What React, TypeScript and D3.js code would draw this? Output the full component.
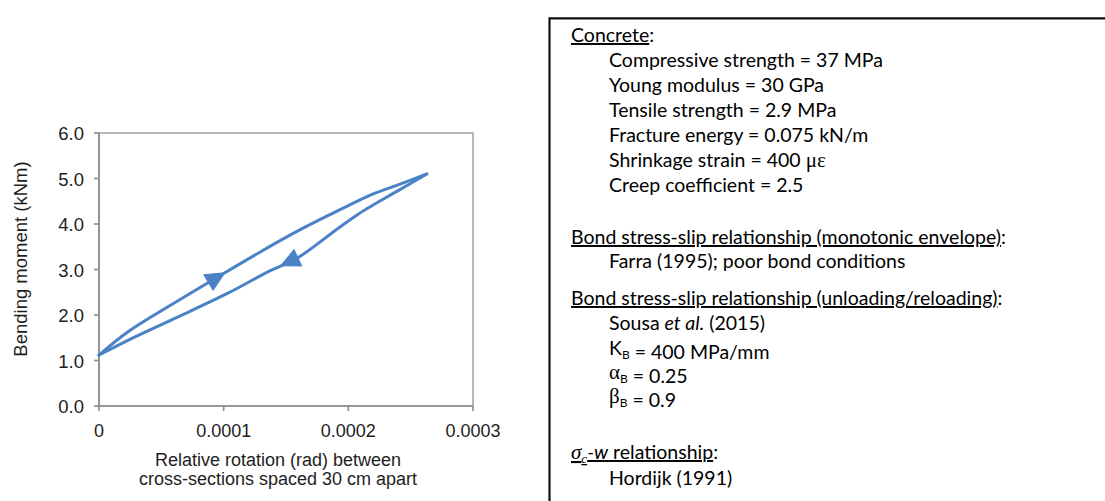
import React from "react";
import * as d3 from "d3";

// Moment–rotation loop: loading branch (upper) and unloading branch (lower)
const loadRotation = [0, 0.0000233, 0.0000553, 0.0000955, 0.000129, 0.000161, 0.000193, 0.00022, 0.000241, 0.000263];
const loadMoment = [1.12, 1.63, 2.18, 2.84, 3.38, 3.87, 4.31, 4.66, 4.87, 5.1];
const unloadRotation = [0.000263, 0.000241, 0.000217, 0.000207, 0.000193, 0.000159, 0.000137, 0.0001034, 0.0000634, 0.0000289, 0];
const unloadMoment = [5.1, 4.75, 4.37, 4.2, 3.93, 3.25, 2.97, 2.48, 1.96, 1.52, 1.12];

// Direction markers, one on each branch
const loadArrowRotation = 0.000094;
const unloadArrowRotation = 0.000153;

const xTicks = [0, 0.0001, 0.0002, 0.0003];
const xTickLabels = ["0", "0.0001", "0.0002", "0.0003"];
const yTicks = [0, 1, 2, 3, 4, 5, 6];
const yTickLabels = ["0.0", "1.0", "2.0", "3.0", "4.0", "5.0", "6.0"];

const xTitle = ["Relative rotation (rad) between", "cross-sections spaced 30 cm apart"];
const yTitle = "Bending moment (kNm)";

const W = 1105;
const H = 501;
const plot = { left: 99, right: 473, top: 133, bottom: 406 };

const x = d3.scaleLinear().domain([0, 0.0003]).range([plot.left, plot.right]);
const y = d3.scaleLinear().domain([0, 6]).range([plot.bottom, plot.top]);

const LINE = "#4a82c6";
const AXIS = "#8c8c8c";
const TEXT = "#1e1e1e";
const CHART_FONT = "'Liberation Sans', Arial, sans-serif";
const BOX_FONT = "Lato, 'Open Sans', sans-serif";
const GREEK_FONT = "'Liberation Serif', 'DejaVu Serif', serif";

type Pt = [number, number];
const zipPts = (xs: number[], ys: number[]): Pt[] => xs.map((v, i) => [v, ys[i]]);

const loadPts = zipPts(loadRotation, loadMoment);
const unloadPts = zipPts(unloadRotation, unloadMoment);

const lineGen = d3
  .line<Pt>()
  .x((d) => x(d[0]))
  .y((d) => y(d[1]))
  .curve(d3.curveCatmullRom.alpha(0.5));

// Place a marker on the branch at a given rotation, oriented along the branch direction
function arrowAt(pts: Pt[], rot: number) {
  for (let i = 0; i < pts.length - 1; i++) {
    const a = pts[i];
    const b = pts[i + 1];
    const lo = Math.min(a[0], b[0]);
    const hi = Math.max(a[0], b[0]);
    if (rot >= lo && rot <= hi) {
      const t = (rot - a[0]) / (b[0] - a[0]);
      const m = a[1] + t * (b[1] - a[1]);
      const px = x(rot);
      const py = y(m);
      const ang = (Math.atan2(y(b[1]) - y(a[1]), x(b[0]) - x(a[0])) * 180) / Math.PI;
      return { px, py, ang };
    }
  }
  return { px: 0, py: 0, ang: 0 };
}

const Arrow = ({ pts, rot }: { pts: Pt[]; rot: number }) => {
  const a = arrowAt(pts, rot);
  return (
    <path
      d="M10,0 L-9,-9 L-9,9 Z"
      fill={LINE}
      stroke={LINE}
      strokeWidth={1}
      strokeLinejoin="round"
      transform={`translate(${a.px},${a.py}) rotate(${a.ang})`}
    />
  );
};

const Sub = ({ children }: { children: React.ReactNode }) => (
  <>
    <tspan fontSize={12} dy={4}>
      {children}
    </tspan>
    <tspan dy={-4}></tspan>
  </>
);

export default function App() {
  const headX = 571;
  const itemX = 609;
  return (
    <svg
      width={W}
      height={H}
      viewBox={`0 0 ${W} ${H}`}
      style={{ position: "absolute", left: 0, top: 0, background: "#fff" }}
    >
      <rect x={0} y={0} width={W} height={H} fill="#fff" />

      {/* plot frame */}
      <rect
        x={plot.left}
        y={plot.top}
        width={plot.right - plot.left}
        height={plot.bottom - plot.top}
        fill="none"
        stroke="#a6a6a6"
        strokeWidth={1.6}
      />
      {/* axes */}
      <line x1={plot.left} x2={plot.left} y1={plot.top} y2={plot.bottom} stroke={AXIS} strokeWidth={1.6} />
      <line x1={plot.left} x2={plot.right} y1={plot.bottom} y2={plot.bottom} stroke={AXIS} strokeWidth={1.6} />
      {yTicks.map((t, i) => (
        <g key={"y" + t}>
          <line x1={plot.left - 5} x2={plot.left} y1={y(t)} y2={y(t)} stroke={AXIS} strokeWidth={1.6} />
          <text
            x={84}
            y={y(t) + 7}
            textAnchor="end"
            fontFamily={CHART_FONT}
            fontSize={18.5}
            fill={TEXT}
          >
            {yTickLabels[i]}
          </text>
        </g>
      ))}
      {xTicks.map((t, i) => (
        <g key={"x" + t}>
          <line x1={x(t)} x2={x(t)} y1={plot.bottom} y2={plot.bottom + 5} stroke={AXIS} strokeWidth={1.6} />
          <text
            x={x(t)}
            y={437}
            textAnchor="middle"
            fontFamily={CHART_FONT}
            fontSize={18}
            fill={TEXT}
          >
            {xTickLabels[i]}
          </text>
        </g>
      ))}

      {/* axis titles */}
      {xTitle.map((s, i) => (
        <text
          key={s}
          x={278}
          y={466 + i * 19}
          textAnchor="middle"
          fontFamily={CHART_FONT}
          fontSize={18}
          fill={TEXT}
        >
          {s}
        </text>
      ))}
      <text
        transform="translate(27,259) rotate(-90)"
        textAnchor="middle"
        fontFamily={CHART_FONT}
        fontSize={18.5}
        fill={TEXT}
      >
        {yTitle}
      </text>

      {/* loop */}
      <path d={lineGen(loadPts) ?? ""} fill="none" stroke={LINE} strokeWidth={3} strokeLinejoin="round" strokeLinecap="round" />
      <path d={lineGen(unloadPts) ?? ""} fill="none" stroke={LINE} strokeWidth={3} strokeLinejoin="round" strokeLinecap="round" />
      <Arrow pts={loadPts} rot={loadArrowRotation} />
      <Arrow pts={unloadPts} rot={unloadArrowRotation} />

      {/* material parameters box */}
      <path d={`M${W + 2},18.3 H549.5 V${H + 2}`} fill="none" stroke="#111" strokeWidth={2.2} />
      <g fontFamily={BOX_FONT} fontSize={19.5} fill="#000">
        <text x={headX} y={42}>
          <tspan style={{ textDecoration: "underline" }}>Concrete</tspan>:
        </text>
        <text x={itemX} y={67}>Compressive strength = 37 MPa</text>
        <text x={itemX} y={92}>Young modulus = 30 GPa</text>
        <text x={itemX} y={117}>Tensile strength = 2.9 MPa</text>
        <text x={itemX} y={142}>Fracture energy = 0.075 kN/m</text>
        <text x={itemX} y={167}>
          Shrinkage strain = 400 <tspan fontFamily={GREEK_FONT} fontSize={21}>με</tspan>
        </text>
        <text x={itemX} y={192}>Creep coefficient = 2.5</text>

        <text x={headX} y={244}>
          <tspan style={{ textDecoration: "underline" }}>Bond stress-slip relationship (monotonic envelope)</tspan>:
        </text>
        <text x={itemX} y={268}>Farra (1995); poor bond conditions</text>

        <text x={headX} y={305}>
          <tspan style={{ textDecoration: "underline" }}>Bond stress-slip relationship (unloading/reloading)</tspan>:
        </text>
        <text x={itemX} y={330}>
          Sousa <tspan fontStyle="italic">et al.</tspan> (2015)
        </text>
        <text x={itemX} y={355}>
          K<Sub>B</Sub> = 400 MPa/mm
        </text>
        <text x={itemX} y={379}>
          <tspan fontFamily={GREEK_FONT} fontSize={21}>α</tspan>
          <Sub>B</Sub> = 0.25
        </text>
        <text x={itemX} y={403}>
          <tspan fontFamily={GREEK_FONT} fontSize={21}>β</tspan>
          <Sub>B</Sub> = 0.9
        </text>

        <text x={headX} y={459}>
          <tspan style={{ textDecoration: "underline" }}>
            <tspan fontFamily={GREEK_FONT} fontStyle="italic" fontSize={21}>σ</tspan>
            <tspan fontFamily={GREEK_FONT} fontStyle="italic" fontSize={13} dy={4}>c</tspan>
            <tspan dy={-4} fontStyle="italic">-w</tspan> relationship
          </tspan>:
        </text>
        <text x={itemX} y={485}>Hordijk (1991)</text>
      </g>
    </svg>
  );
}
